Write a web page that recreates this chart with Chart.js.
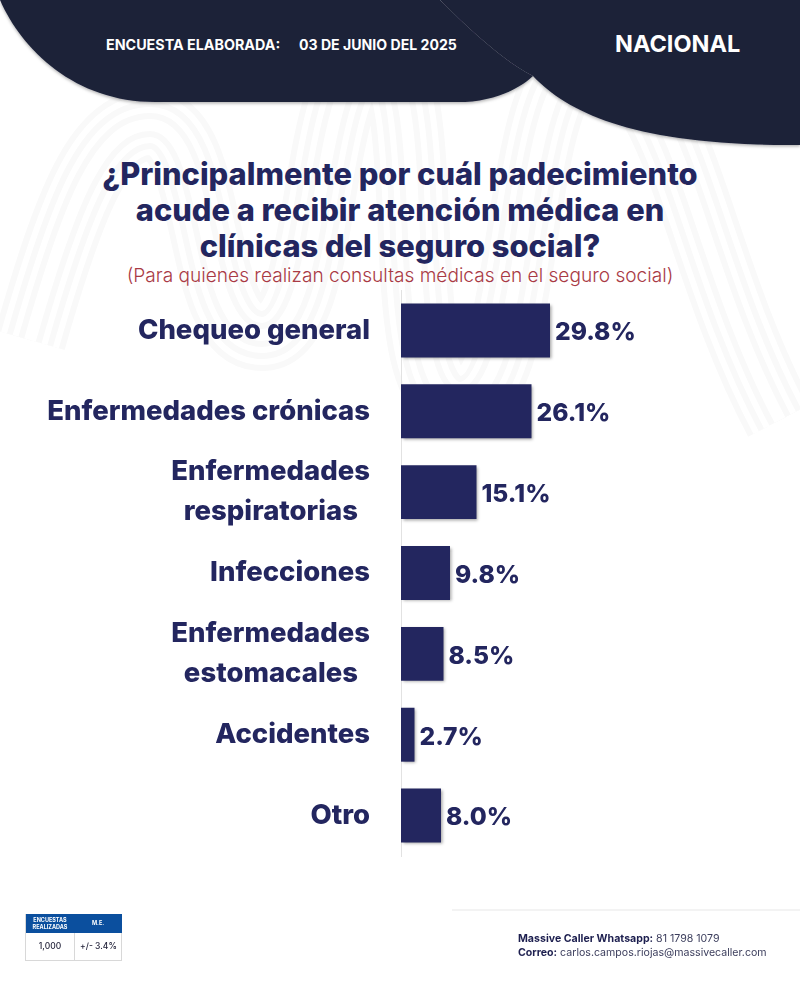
<!DOCTYPE html>
<html lang="es">
<head>
<meta charset="utf-8">
<title>Encuesta Nacional</title>
<script src="https://cdn.jsdelivr.net/npm/chart.js@4"></script>
<style>
  html, body { margin: 0; padding: 0; background: #fff; }
  #page { position: relative; width: 800px; height: 999px; overflow: hidden; font-family: Inter, sans-serif; }
  #page > * { position: absolute; }
  #bg { left: 0; top: 0; }
  #chart { left: 0; top: 0; }
  .head { color: #fff; font-weight: 700; white-space: nowrap; }
  #title { left: 0; width: 800px; top: 156px; text-align: center; color: #23265f; font-size: 30.8px; line-height: 36px; font-weight: 800; white-space: nowrap; }
  #sub { left: 0; width: 800px; top: 263px; text-align: center; color: #a93a45; font-size: 19.1px; font-weight: 300; white-space: nowrap; }
  #tabla { left: 25px; top: 914px; width: 97px; height: 47px; border: 1px solid #d8d8d8; box-sizing: border-box; border-top: 0; }
  #tabla div { position: absolute; text-align: center; white-space: nowrap; }
  .th { top: 0; height: 19px; background: #0b4f9e; color: #fff; font-size: 5.5px; font-weight: 700; line-height: 7px; padding-top: 3px; box-sizing: border-box; }
  .td { top: 19px; height: 27px; line-height: 27px; font-size: 8.5px; font-weight: 500; color: #23233a; }
  #contacto { left: 518px; top: 932px; font-size: 10.6px; line-height: 14px; color: #3b3d5c; white-space: nowrap; }
  #contacto b { color: #1d1f4f; }
</style>
</head>
<body>
<div id="page">
  <svg id="bg" width="800" height="999" viewBox="0 0 800 999">
    <defs>
      <filter id="sombra" x="-5%" y="-5%" width="110%" height="120%"><feDropShadow dx="0" dy="1.5" stdDeviation="1.5" flood-color="#000" flood-opacity="0.3"/></filter>
      <path id="onda" d="M30 340 C70 200 100 125 150 125 C215 125 195 335 262 335 C330 335 310 60 375 60 C440 60 385 400 460 400 C535 400 510 60 590 60 C680 60 690 250 780 420"/>
    </defs>
    <!-- marca de agua: bandas paralelas -->
    <g fill="none">
      <use href="#onda" stroke="#f9f9f9" stroke-width="72"/>
      <use href="#onda" stroke="#ffffff" stroke-width="60"/>
      <use href="#onda" stroke="#f9f9f9" stroke-width="48"/>
      <use href="#onda" stroke="#ffffff" stroke-width="36"/>
      <use href="#onda" stroke="#f9f9f9" stroke-width="24"/>
      <use href="#onda" stroke="#ffffff" stroke-width="12"/>
    </g>
    <path d="M440 0 C470 30 505 62 533 76 C570 115 640 146 800 145 L800 0 Z" fill="#1c2139" filter="url(#sombra)"/>
    <path d="M0 0 C22 50 75 102 155 102 L465 102 C495 100 518 90 533 76 C505 62 470 30 440 0 Z" fill="#1c2139" filter="url(#sombra)"/>
    <!-- linea del pie -->
    <rect x="452" y="909" width="348" height="2" fill="#f3f3f3"/>
  </svg>

  <div class="head" style="left:106px;top:36px;font-size:14.3px">ENCUESTA ELABORADA:</div>
  <div class="head" style="left:299px;top:36px;font-size:14.1px">03 DE JUNIO DEL 2025</div>
  <div class="head" style="left:615px;top:29px;font-size:23.5px">NACIONAL</div>

  <div id="title">¿Principalmente por cuál padecimiento<br>acude a recibir atención médica en<br>clínicas del seguro social?</div>
  <div id="sub">(Para quienes realizan consultas médicas en el seguro social)</div>

  <canvas id="chart" width="800" height="999"></canvas>

  <div id="tabla">
    <div class="th" style="left:0;width:48px">ENCUESTAS<br>REALIZADAS</div>
    <div class="th" style="left:48px;width:48px;line-height:13px">M.E.</div>
    <div class="td" style="left:0;width:48px;border-right:1px solid #d8d8d8">1,000</div>
    <div class="td" style="left:49px;width:47px">+/- 3.4%</div>
  </div>
  <div id="contacto"><b>Massive Caller Whatsapp:</b> 81 1798 1079<br><b>Correo:</b> carlos.campos.riojas@massivecaller.com</div>
</div>

<script>
const categorias = [
  'Chequeo general',
  'Enfermedades crónicas',
  ['Enfermedades', 'respiratorias  '],
  'Infecciones',
  ['Enfermedades', 'estomacales  '],
  'Accidentes',
  'Otro'
];
const valores = [29.8, 26.1, 15.1, 9.8, 8.5, 2.7, 8.0];

const AZUL = '#23265f';

// Sombra de las barras
const sombraBarras = {
  id: 'sombraBarras',
  beforeDatasetsDraw(chart) {
    const ctx = chart.ctx;
    ctx.save();
    ctx.shadowColor = 'rgba(0,0,0,0.35)';
    ctx.shadowBlur = 3;
    ctx.shadowOffsetX = 1.5;
    ctx.shadowOffsetY = 1.5;
  },
  afterDatasetsDraw(chart) {
    chart.ctx.restore();
  }
};

// Etiquetas con el porcentaje al final de cada barra
const etiquetas = {
  id: 'etiquetas',
  afterDraw(chart) {
    const ctx = chart.ctx;
    ctx.save();
    ctx.fillStyle = AZUL;
    ctx.font = '800 24.6px Inter, sans-serif';
    ctx.textAlign = 'left';
    ctx.textBaseline = 'middle';
    chart.getDatasetMeta(0).data.forEach((bar, i) => {
      ctx.fillText(valores[i].toFixed(1) + '%', bar.x + 5, bar.y + 2.5);
    });
    ctx.restore();
  }
};

new Chart(document.getElementById('chart').getContext('2d'), {
  type: 'bar',
  data: {
    labels: categorias,
    datasets: [{
      data: valores,
      backgroundColor: AZUL,
      barPercentage: 0.667,
      categoryPercentage: 1
    }]
  },
  options: {
    indexAxis: 'y',
    responsive: false,
    animation: false,
    layout: { padding: { top: 290, bottom: 143, left: 0, right: 0 } },
    plugins: { legend: { display: false }, tooltip: { enabled: false }, title: { display: false } },
    scales: {
      x: { display: false, min: 0, max: 79.8 },
      y: {
        afterFit: scale => { scale.width = 401; },
        grid: { display: false, drawTicks: false },
        border: { display: true, color: '#e2e2e2', width: 1 },
        ticks: {
          autoSkip: false,
          padding: 31,
          color: AZUL,
          font: { family: 'Inter, sans-serif', size: 27.5, weight: '800', lineHeight: 1.45 }
        }
      }
    }
  },
  plugins: [sombraBarras, etiquetas]
});
</script>
</body>
</html>
